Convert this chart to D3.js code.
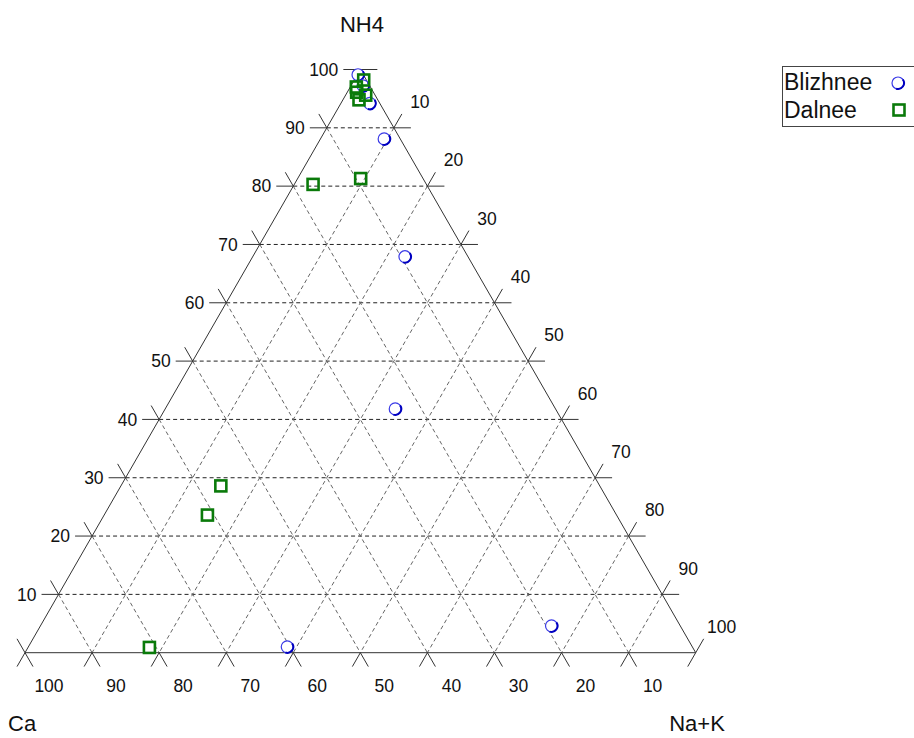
<!DOCTYPE html>
<html>
<head>
<meta charset="utf-8">
<script src="https://cdn.jsdelivr.net/npm/d3@7"></script>
<style>
  html, body { margin: 0; padding: 0; background: #fff; }
  svg { display: block; font-family: "Liberation Sans", Arial, sans-serif; }
</style>
</head>
<body>
<svg id="chart" width="914" height="738"></svg>
<script>
// Ternary composition (percent): NH4, Ca, Na+K
const seriesNames = ["Blizhnee", "Dalnee"];

const blizhneeNH4 = [99.1, 97.2, 94.2, 88.1, 67.9, 41.8, 1.0, 4.6];
const blizhneeCa  = [0.8, 1.0, 1.5, 2.4, 9.4, 23.9, 60.4, 19.2];
const blizhneeNaK = [0.1, 1.8, 4.3, 9.5, 22.7, 34.3, 38.6, 76.2];

const dalneeNH4 = [98.2, 97.0, 96.1, 95.6, 94.8, 80.3, 81.3, 28.6, 23.6, 0.9];
const dalneeCa  = [0.4, 2.1, 2.5, 1.4, 2.8, 16.9, 9.3, 56.5, 61.0, 81.0];
const dalneeNaK = [1.4, 0.9, 1.4, 3.0, 2.4, 2.8, 9.4, 14.9, 15.4, 18.1];

const gridLevels = [10, 20, 30, 40, 50, 60, 70, 80, 90];
const tickLevels = [0, 10, 20, 30, 40, 50, 60, 70, 80, 90, 100];
const axisTitles = ["NH4", "Ca", "Na+K"];

const svg = d3.select("#chart");

// Horizontal position follows (Na+K + NH4/2), vertical follows NH4
const xs = d3.scaleLinear().domain([0, 100]).range([25, 695.7]);
const ys = d3.scaleLinear().domain([0, 100]).range([652.7, 69.5]);

function proj(nh4, ca, nak) {
  const s = nh4 + ca + nak;
  const a = nh4 / s * 100, c = nak / s * 100;
  return [xs(c + a / 2), ys(a)];
}

// Unit directions for the outer tick marks
const dk = Math.hypot(xs(50) - xs(0), ys(100) - ys(0));
const ux = (xs(50) - xs(0)) / dk, uy = (ys(100) - ys(0)) / dk;
const dirs = {
  left: [-1, 0], right: [1, 0],
  upLeft: [-ux, uy], upRight: [ux, uy],
  downLeft: [-ux, -uy], downRight: [ux, -uy]
};

const gGrid = svg.append("g");
const dash = "4,3";

// NH4 constant lines (horizontal)
gridLevels.forEach(k => {
  const p1 = proj(k, 100 - k, 0), p2 = proj(k, 0, 100 - k);
  gGrid.append("line").attr("x1", p1[0]).attr("y1", p1[1]).attr("x2", p2[0]).attr("y2", p2[1])
    .attr("stroke", "#222").attr("stroke-width", 1).attr("stroke-dasharray", dash);
});
// Ca constant lines
gridLevels.forEach(k => {
  const p1 = proj(100 - k, k, 0), p2 = proj(0, k, 100 - k);
  gGrid.append("line").attr("x1", p1[0]).attr("y1", p1[1]).attr("x2", p2[0]).attr("y2", p2[1])
    .attr("stroke", "#666").attr("stroke-width", 1).attr("stroke-dasharray", dash);
});
// Na+K constant lines
gridLevels.forEach(k => {
  const p1 = proj(100 - k, 0, k), p2 = proj(0, 100 - k, k);
  gGrid.append("line").attr("x1", p1[0]).attr("y1", p1[1]).attr("x2", p2[0]).attr("y2", p2[1])
    .attr("stroke", "#666").attr("stroke-width", 1).attr("stroke-dasharray", dash);
});

// Triangle frame
const T = proj(100, 0, 0), BL = proj(0, 100, 0), BR = proj(0, 0, 100);
svg.append("path")
  .attr("d", d3.line()([T, BL, BR, T]) + "Z")
  .attr("fill", "none").attr("stroke", "#333").attr("stroke-width", 1);

// Tick marks
const gTicks = svg.append("g").attr("stroke", "#333").attr("stroke-width", 1);
function tick(p, dir, len) {
  gTicks.append("line").attr("x1", p[0]).attr("y1", p[1])
    .attr("x2", p[0] + dir[0] * len).attr("y2", p[1] + dir[1] * len);
}
tickLevels.forEach(k => {
  // left edge: NH4 = k
  const pl = proj(k, 100 - k, 0);
  if (k > 0) tick(pl, dirs.left, 17);
  if (k < 100) tick(pl, dirs.upLeft, 16);
  // bottom edge: Ca = k
  const pb = proj(0, k, 100 - k);
  tick(pb, dirs.downLeft, 16);
  if (k > 0) tick(pb, dirs.downRight, 16);
  // right edge: Na+K = k
  const pr = proj(100 - k, 0, k);
  if (k < 100) tick(pr, dirs.right, 17);
  if (k > 0) tick(pr, dirs.upRight, 16);
});

// Tick labels
const gLab = svg.append("g").attr("font-size", 17.5).attr("fill", "#111");
tickLevels.filter(k => k > 0).forEach(k => {
  const pl = proj(k, 100 - k, 0);
  gLab.append("text").attr("x", pl[0] - 22).attr("y", pl[1]).attr("dy", "0.35em")
    .attr("text-anchor", "end").text(k);
  const pb = proj(0, k, 100 - k);
  gLab.append("text").attr("x", pb[0] + 24).attr("y", pb[1] + 33).attr("dy", "0.35em")
    .attr("text-anchor", "middle").text(k);
  const pr = proj(100 - k, 0, k);
  gLab.append("text").attr("x", pr[0] + 26).attr("y", pr[1] - 26).attr("dy", "0.35em")
    .attr("text-anchor", "middle").text(k);
});

// Axis titles
const gTitle = svg.append("g").attr("font-size", 22).attr("fill", "#111");
gTitle.append("text").attr("x", 362).attr("y", 32).attr("text-anchor", "middle").text(axisTitles[0]);
gTitle.append("text").attr("x", 8).attr("y", 731).attr("text-anchor", "start").text(axisTitles[1]);
gTitle.append("text").attr("x", 697).attr("y", 731).attr("text-anchor", "middle").text(axisTitles[2]);

// Markers: ring with heavier lower-right rim
const shade = d3.arc().innerRadius(5.0).outerRadius(7.0)
  .startAngle(Math.PI * 0.3).endAngle(Math.PI * 1.1);
function circleMarker(g, x, y) {
  g.append("circle").attr("cx", x).attr("cy", y).attr("r", 6)
    .attr("fill", "#fff").attr("stroke", "#3a3ae6").attr("stroke-width", 1.2);
  g.append("path").attr("d", shade()).attr("transform", `translate(${x},${y})`)
    .attr("fill", "#0000c0");
}
function squareMarker(g, x, y) {
  g.append("rect").attr("x", x - 5.5).attr("y", y - 5.5).attr("width", 11).attr("height", 11)
    .attr("fill", "none").attr("stroke", "#0a7a0a").attr("stroke-width", 2.6);
}

const gPts = svg.append("g");
blizhneeNH4.forEach((v, i) => {
  const p = proj(v, blizhneeCa[i], blizhneeNaK[i]);
  circleMarker(gPts, p[0], p[1]);
});
dalneeNH4.forEach((v, i) => {
  const p = proj(v, dalneeCa[i], dalneeNaK[i]);
  squareMarker(gPts, p[0], p[1]);
});

// Legend
const gLeg = svg.append("g");
gLeg.append("rect").attr("x", 782.5).attr("y", 66.5).attr("width", 150).attr("height", 60)
  .attr("fill", "#fff").attr("stroke", "#444").attr("stroke-width", 1);
gLeg.append("text").attr("x", 784).attr("y", 90).attr("font-size", 23).attr("fill", "#111").text(seriesNames[0]);
gLeg.append("text").attr("x", 784).attr("y", 118).attr("font-size", 23).attr("fill", "#111").text(seriesNames[1]);
circleMarker(gLeg, 898, 83);
squareMarker(gLeg, 899, 110);
</script>
</body>
</html>
